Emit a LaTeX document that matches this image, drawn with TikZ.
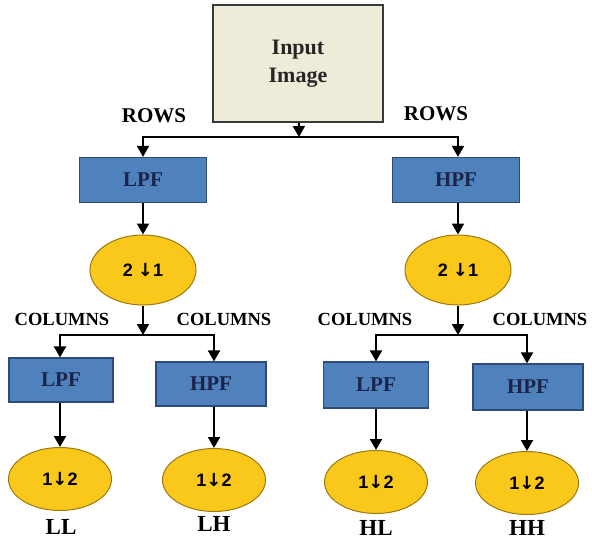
\documentclass[tikz,border=0pt]{standalone}
\usepackage{fontspec}
\setmainfont{Liberation Serif}
\newfontfamily\numfont{Liberation Sans}
\newfontfamily\arrfont{DejaVu Sans}
\usetikzlibrary{shapes.geometric, arrows.meta}

\definecolor{imgfill}{HTML}{EEEBD9}
\definecolor{imgedge}{HTML}{3A3A3A}
\definecolor{boxblue}{HTML}{4F81BD}
\definecolor{boxedge}{HTML}{2E4A78}
\definecolor{boxtext}{HTML}{1B2348}
\definecolor{ovalfill}{HTML}{F9C81B}
\definecolor{ovaledge}{HTML}{9C7A10}

\newcommand{\dn}{{\arrfont\bfseries ↓}}

\begin{document}
\begin{tikzpicture}[x=1pt, y=-1pt,
    filter/.style={draw=boxedge, fill=boxblue, line width=1.2pt, inner sep=0pt,
        text=boxtext, font=\fontsize{21}{23}\selectfont\bfseries},
    oval/.style={ellipse, draw=ovaledge, fill=ovalfill, line width=1pt, inner sep=0pt,
        font=\numfont\fontsize{18}{20}\selectfont\bfseries},
    lbl/.style={font=\fontsize{18.5}{20}\selectfont\bfseries, text=black},
    flow/.style={line width=2pt, -{Triangle[width=12pt, length=11pt]}}]

    % frame
    \useasboundingbox (0,0) rectangle (592,543);

    % Input image
    \node[draw=imgedge, fill=imgfill, line width=1.2pt, minimum width=170pt, minimum height=117pt,
        align=center, font=\fontsize{22}{28}\selectfont\bfseries, text=black!85] (img) at (298,63.5) {Input\\Image};

    % rows stage
    \node[filter, minimum width=127pt, minimum height=45pt] (lpf) at (143,180) {LPF};
    \node[filter, minimum width=127pt, minimum height=45pt] (hpf) at (456,180) {HPF};
    \node[oval, minimum width=106pt, minimum height=70pt] (dl) at (143,270) {2 \dn1};
    \node[oval, minimum width=106pt, minimum height=70pt] (dh) at (458,270) {2 \dn1};

    % columns stage
    \node[filter, minimum width=104pt, minimum height=44pt] (ll) at (61,380) {LPF};
    \node[filter, minimum width=110pt, minimum height=44pt] (lh) at (211,384) {HPF};
    \node[filter, minimum width=105pt, minimum height=46pt] (hl) at (376,385) {LPF};
    \node[filter, minimum width=110pt, minimum height=46pt] (hh) at (528,387) {HPF};

    \node[oval, minimum width=103pt, minimum height=63pt] (dll) at (60,479) {1\dn2};
    \node[oval, minimum width=103pt, minimum height=63pt] (dlh) at (214,480) {1\dn2};
    \node[oval, minimum width=103pt, minimum height=63pt] (dhl) at (376,482) {1\dn2};
    \node[oval, minimum width=103pt, minimum height=63pt] (dhh) at (527,483) {1\dn2};

    % labels
    \node[lbl, font=\fontsize{21}{23}\selectfont\bfseries] (rl) at (154,116) {ROWS};
    \node[lbl, font=\fontsize{21}{23}\selectfont\bfseries] (rr) at (436,114) {ROWS};
    \node[lbl] (c1) at (62,319) {COLUMNS};
    \node[lbl] (c2) at (224,319) {COLUMNS};
    \node[lbl] (c3) at (365,319) {COLUMNS};
    \node[lbl] (c4) at (540,319) {COLUMNS};
    \node[lbl, font=\fontsize{23}{25}\selectfont\bfseries] (oll) at (61,527) {LL};
    \node[lbl, font=\fontsize{23}{25}\selectfont\bfseries] (olh) at (214,524) {LH};
    \node[lbl, font=\fontsize{23}{25}\selectfont\bfseries] (ohl) at (376,528) {HL};
    \node[lbl, font=\fontsize{23}{25}\selectfont\bfseries] (ohh) at (527,528) {HH};

    % split points
    \coordinate (rsplit) at (299,137);
    \coordinate (lsplit) at (143,335);
    \coordinate (hsplit) at (458,335);

    % connectors
    \draw[flow] (img) -- (rsplit);
    \draw[flow] (rsplit) -| (lpf);
    \draw[flow] (rsplit) -| (hpf.north -| dh);
    \draw[flow] (lpf) -- (dl);
    \draw[flow] (hpf.south -| dh) -- (dh);
    \draw[flow] (dl) -- (lsplit);
    \draw[flow] (dh) -- (hsplit);
    \draw[flow] (lsplit) -| (ll.north -| dll);
    \draw[flow] (lsplit) -| (lh.north -| dlh);
    \draw[flow] (hsplit) -| (hl);
    \draw[flow] (hsplit) -| (hh.north -| dhh);
    \draw[flow] (ll.south -| dll) -- (dll);
    \draw[flow] (lh.south -| dlh) -- (dlh);
    \draw[flow] (hl) -- (dhl);
    \draw[flow] (hh.south -| dhh) -- (dhh);

\end{tikzpicture}
\end{document}
